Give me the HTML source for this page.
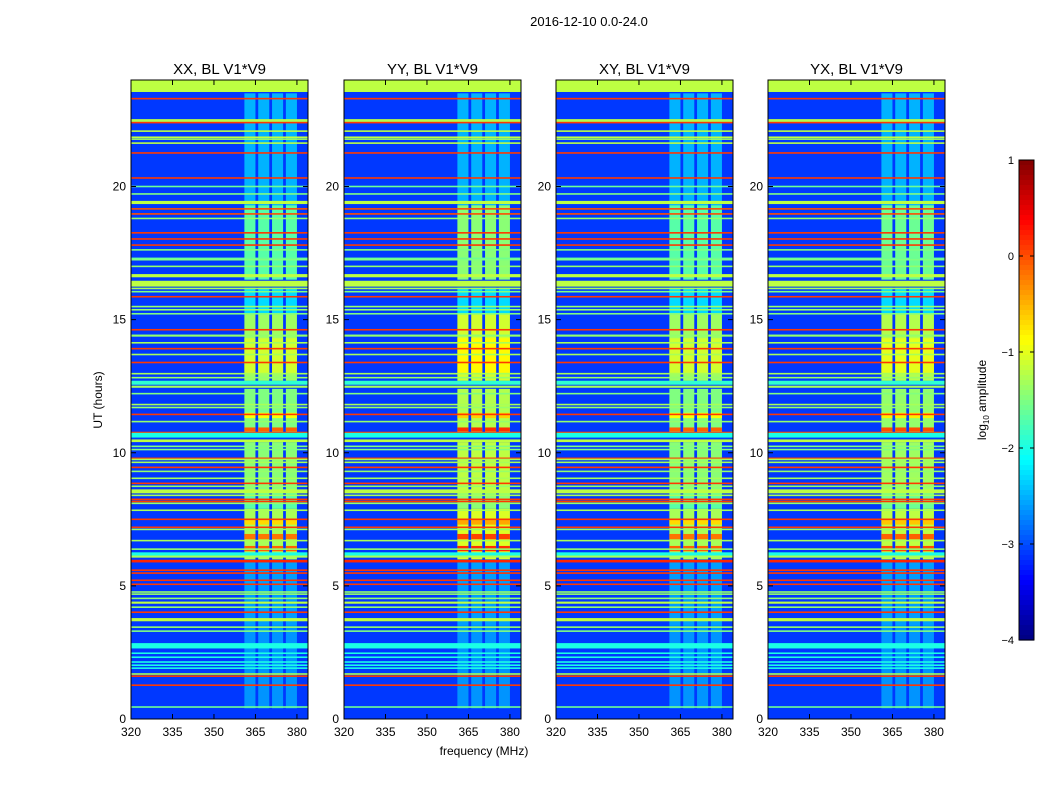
<!DOCTYPE html>
<html><head><meta charset="utf-8"><style>
body{margin:0;background:#fff;}
svg text{font-family:"Liberation Sans",sans-serif;}
</style></head><body>
<svg id="chart" width="1050" height="800" xmlns="http://www.w3.org/2000/svg">
<text x="589" y="26" font-size="13" text-anchor="middle">2016-12-10 0.0-24.0</text>
<text x="484" y="755" font-size="12" text-anchor="middle">frequency (MHz)</text>
<text transform="translate(102,400) rotate(-90)" font-size="12" text-anchor="middle">UT (hours)</text>
<g id="panels"></g>
<g id="cbar"></g>
</svg>
<script>
const panelTitles=["XX, BL V1*V9","YY, BL V1*V9","XY, BL V1*V9","YX, BL V1*V9"];
const panelLeft=[131,344,556,768];
const bandGain=[0,0.25,0,0.1];
const xTicks=[320,335,350,365,380];
const yTicks=[0,5,10,15,20];
const cbTicks=[1,0,-1,-2,-3,-4];
const bgLevel=-3.1;
const subbands=[[361,365],[366,370],[371,375],[376,380]];
const bandSegs=[[0.4,3.5,-2.65],[3.5,6.0,-2.6],[6.0,7.9,-1.3],[6.3,6.5,-0.1],[6.75,6.95,-0.2],[7.3,7.5,-0.7],[7.9,8.5,-1.7],[8.5,10.4,-1.45],[10.6,12.4,-1.5],[10.8,10.95,-0.1],[11.3,11.5,-0.9],[12.7,15.2,-1.35],[13.0,14.3,-1.1],[15.2,16.2,-2.3],[16.5,19.3,-1.7],[19.3,23.5,-2.5]];
const rfiHours=[23.3,22.5,22.45,22.4,22.08,21.85,21.78,21.63,21.26,20.32,20.0,19.72,19.4,19.16,18.97,18.8,18.26,18.03,17.8,17.62,17.3,17.25,17.0,16.65,16.4,16.3,16.17,16.05,15.86,15.49,15.37,15.22,14.62,14.4,14.13,13.91,13.69,13.39,12.97,12.82,12.63,12.48,12.22,11.81,11.7,11.44,11.17,10.76,10.66,10.45,10.24,10.12,9.79,9.75,9.64,9.45,9.3,9.04,8.85,8.74,8.55,8.4,8.25,8.17,8.1,7.84,7.5,7.2,7.12,6.7,6.38,6.2,6.1,5.93,5.59,5.48,5.21,5.06,4.77,4.69,4.53,4.37,4.2,4.01,3.73,3.45,3.3,2.75,2.47,2.32,2.14,2.02,1.91,1.69,1.61,1.27,0.45];
const rfiLevels=[0.1,-1.2,-1.3,0.1,-1.2,-1.2,-1.3,-1.2,0.1,0.1,-1.6,-1.5,-1.2,0.0,0.0,-1.4,0.1,0.1,0.1,-1.5,-1.6,-1.5,-1.4,-1.2,-1.2,-1.2,-1.3,-1.5,0.1,-1.4,-1.4,-1.5,0.1,-1.4,-1.3,0.1,-1.3,0.1,-1.3,-1.4,-1.9,-1.3,-1.5,-1.3,-1.4,0.1,-1.4,0.1,-2.0,-1.2,-1.5,-1.5,0.1,-1.3,-1.3,0.1,-1.4,-1.3,0.1,-1.4,-1.2,-1.3,0.1,0.1,-1.4,-1.3,0.1,0.1,-1.4,-1.3,-1.4,-2.0,-1.3,0.2,0.1,0.1,0.1,0.1,-1.4,-1.4,-1.4,-1.2,-1.4,0.1,-1.2,-1.4,-1.5,-2.0,-2.0,-2.0,-2.0,-2.0,-2.0,-1.3,0.1,0.1,-1.6];
const rfiWidth=[0.06,0.06,0.06,0.06,0.06,0.06,0.06,0.06,0.06,0.06,0.06,0.06,0.12,0.06,0.06,0.06,0.06,0.06,0.06,0.06,0.06,0.06,0.06,0.12,0.12,0.12,0.06,0.06,0.06,0.06,0.06,0.06,0.06,0.08,0.06,0.06,0.06,0.06,0.06,0.06,0.15,0.08,0.06,0.06,0.06,0.06,0.06,0.06,0.18,0.1,0.06,0.06,0.06,0.06,0.06,0.06,0.06,0.06,0.06,0.06,0.15,0.06,0.06,0.06,0.06,0.06,0.06,0.06,0.06,0.06,0.06,0.12,0.08,0.1,0.06,0.06,0.06,0.06,0.06,0.06,0.06,0.08,0.06,0.06,0.12,0.06,0.06,0.2,0.06,0.06,0.06,0.06,0.06,0.06,0.06,0.06,0.06];
const NS="http://www.w3.org/2000/svg";
const PW=177,PT=80,PB=719,XMIN=320,XMAX=384,YMAX=24;
function jet(v){let t=(v+4)/5;t=Math.max(0,Math.min(1,t));
 const f=x=>Math.round(255*Math.max(0,Math.min(1,x)));
 const r=f(Math.min(4*t-1.5,-4*t+4.5)),g=f(Math.min(4*t-0.5,-4*t+3.5)),b=f(Math.min(4*t+0.5,-4*t+2.5));
 return `rgb(${r},${g},${b})`;}
function el(tag,attrs,parent){const e=document.createElementNS(NS,tag);for(const k in attrs)e.setAttribute(k,attrs[k]);parent.appendChild(e);return e;}
const panels=document.getElementById('panels');
panelTitles.forEach((title,pi)=>{
 const L=panelLeft[pi];
 const xs=f=>L+(f-XMIN)/(XMAX-XMIN)*PW;
 const ys=h=>PB-h/YMAX*(PB-PT);
 const g=el('g',{},panels);
 
 
 const bg=el('rect',{x:L,y:PT,width:PW,height:PB-PT,fill:jet(bgLevel)},g);
 
 
 bandSegs.forEach(s=>{subbands.forEach(sb=>{
  const r=el('rect',{x:xs(sb[0]),y:ys(s[1]),width:xs(sb[1])-xs(sb[0]),height:ys(s[0])-ys(s[1]),fill:jet(s[2]+(s[2]>-2?bandGain[pi]:0))},g);
  
  
 });});
 rfiHours.forEach((h,i)=>{
  const w=rfiWidth[i];
  const r=el('rect',{x:L,y:ys(h+w/2),width:PW,height:Math.max(1.2,ys(h-w/2)-ys(h+w/2)),fill:jet(rfiLevels[i])},g);
  
  
 });
 const top=el('rect',{x:L,y:ys(24),width:PW,height:ys(23.55)-ys(24),fill:jet(-1.2)},g);
 
 
 el('rect',{x:L,y:PT,width:PW,height:PB-PT,fill:'none',stroke:'#000','stroke-width':1},g);
 const t=el('text',{x:L+PW/2,y:74,'font-size':15,'text-anchor':'middle'},g);t.textContent=title;
 
 
 xTicks.forEach(v=>{const x=xs(v);
  el('line',{x1:x,x2:x,y1:PB,y2:PB-5,stroke:'#000'},g);el('line',{x1:x,x2:x,y1:PT,y2:PT+5,stroke:'#000'},g);
  const tx=el('text',{x:x,y:PB+17,'font-size':12,'text-anchor':'middle'},g);tx.textContent=v;
  
  });
 yTicks.forEach(v=>{const y=ys(v);
  el('line',{x1:L,x2:L+5,y1:y,y2:y,stroke:'#000'},g);el('line',{x1:L+PW,x2:L+PW-5,y1:y,y2:y,stroke:'#000'},g);
  const ty=el('text',{x:L-5,y:y+4,'font-size':12,'text-anchor':'end'},g);ty.textContent=v;
  
  });
});
const cb=document.getElementById('cbar');
const CX=1019,CW=15,CT=160,CB=640;
for(let i=0;i<96;i++){const v1=1-5*i/96;
 const r=el('rect',{x:CX,y:CT+i*(CB-CT)/96,width:CW,height:(CB-CT)/96+0.6,fill:jet(v1-2.5/96)},cb);
 
 }
el('rect',{x:CX,y:CT,width:CW,height:CB-CT,fill:'none',stroke:'#000'},cb);
cbTicks.forEach(v=>{const y=CT+(1-v)/5*(CB-CT);
 el('line',{x1:CX,x2:CX+4,y1:y,y2:y,stroke:'#000'},cb);el('line',{x1:CX+CW,x2:CX+CW-4,y1:y,y2:y,stroke:'#000'},cb);
 const t=el('text',{x:CX-5,y:y+4,'font-size':11,'text-anchor':'end'},cb);t.textContent=v<0?'\u2212'+(-v):v;
 
 });
const cl=el('text',{transform:'translate(986,400) rotate(-90)','font-size':12,'text-anchor':'middle'},cb);
cl.innerHTML='log<tspan font-size="8" dy="3">10</tspan><tspan dy="-3"> amplitude</tspan>';


</script>
</body></html>
